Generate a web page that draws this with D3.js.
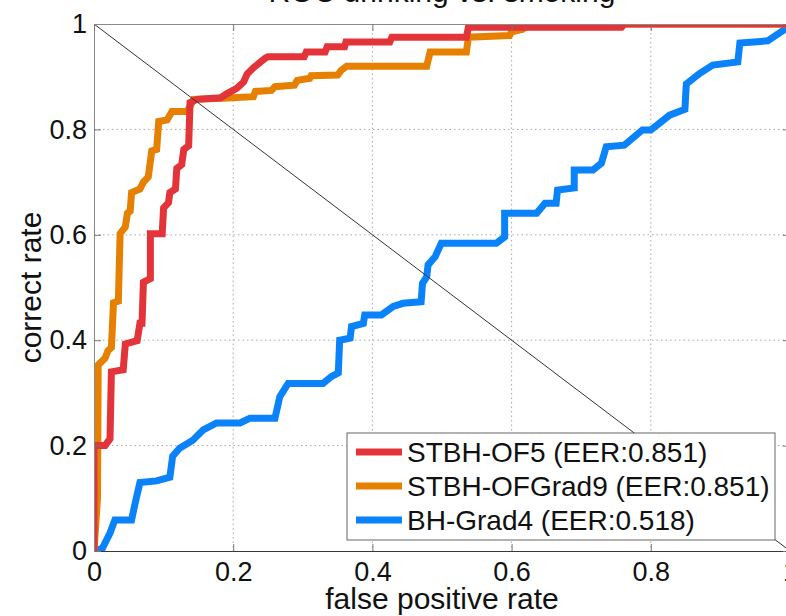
<!DOCTYPE html>
<html>
<head>
<meta charset="utf-8">
<script src="https://cdn.jsdelivr.net/npm/d3@7"></script>
<style>
  body { margin: 0; background: #fff; overflow: hidden; }
  svg { display: block; font-family: "Liberation Sans", Arial, sans-serif; }
</style>
</head>
<body>
<script>

const WIDTH = 786;
const HEIGHT = 616;

// ROC points: [false positive rate, correct rate]
const stbhOf5 = [
  [0, 0], [0, 0.2], [0.016, 0.2], [0.023, 0.213], [0.025, 0.34], [0.042, 0.344],
  [0.045, 0.393], [0.062, 0.399], [0.066, 0.432], [0.069, 0.432], [0.071, 0.51],
  [0.081, 0.517], [0.081, 0.602], [0.098, 0.602], [0.1, 0.651], [0.107, 0.661],
  [0.109, 0.68], [0.117, 0.687], [0.119, 0.726], [0.126, 0.733], [0.129, 0.762],
  [0.136, 0.769], [0.138, 0.851], [0.148, 0.857], [0.182, 0.86], [0.19, 0.867],
  [0.205, 0.878], [0.215, 0.89], [0.22, 0.905], [0.229, 0.917], [0.246, 0.935],
  [0.25, 0.938], [0.302, 0.938], [0.305, 0.947], [0.332, 0.947], [0.335, 0.957],
  [0.36, 0.957], [0.362, 0.966], [0.425, 0.966], [0.428, 0.975], [0.535, 0.975],
  [0.538, 0.994], [0.758, 0.994], [0.762, 1], [1, 1]
];

const stbhOfGrad9 = [
  [0, 0], [0.005, 0.1], [0.006, 0.353], [0.016, 0.366], [0.02, 0.38], [0.025, 0.386],
  [0.028, 0.471], [0.035, 0.474], [0.0375, 0.602], [0.045, 0.615], [0.048, 0.641],
  [0.052, 0.645], [0.054, 0.68], [0.066, 0.687], [0.071, 0.7], [0.078, 0.71],
  [0.083, 0.759], [0.09, 0.762], [0.093, 0.815], [0.105, 0.818], [0.112, 0.834],
  [0.134, 0.834], [0.138, 0.844], [0.143, 0.857], [0.185, 0.859], [0.229, 0.862],
  [0.232, 0.872], [0.255, 0.874], [0.26, 0.881], [0.288, 0.884], [0.292, 0.893],
  [0.31, 0.897], [0.312, 0.902], [0.35, 0.903], [0.355, 0.912], [0.363, 0.92],
  [0.478, 0.92], [0.483, 0.947], [0.535, 0.947], [0.538, 0.975], [0.597, 0.978],
  [0.6, 0.985], [0.616, 0.99], [0.625, 1], [1, 1]
];

const bhGrad4 = [
  [0, 0], [0.012, 0.005], [0.023, 0.034], [0.03, 0.059], [0.054, 0.059], [0.059, 0.09],
  [0.066, 0.13], [0.09, 0.133], [0.109, 0.14], [0.113, 0.18], [0.123, 0.195],
  [0.142, 0.21], [0.157, 0.23], [0.176, 0.243], [0.21, 0.243], [0.224, 0.252],
  [0.26, 0.252], [0.267, 0.293], [0.279, 0.318], [0.329, 0.318], [0.341, 0.331],
  [0.351, 0.338], [0.353, 0.4], [0.368, 0.404], [0.37, 0.426], [0.387, 0.432],
  [0.389, 0.448], [0.413, 0.448], [0.43, 0.464], [0.444, 0.47], [0.47, 0.473],
  [0.472, 0.508], [0.478, 0.52], [0.48, 0.543], [0.49, 0.558], [0.499, 0.584],
  [0.578, 0.584], [0.59, 0.596], [0.59, 0.641], [0.636, 0.641], [0.648, 0.66],
  [0.664, 0.66], [0.666, 0.685], [0.69, 0.689], [0.69, 0.723], [0.717, 0.723],
  [0.729, 0.736], [0.736, 0.767], [0.762, 0.77], [0.788, 0.799], [0.8, 0.799],
  [0.827, 0.827], [0.849, 0.838], [0.851, 0.886], [0.87, 0.906], [0.889, 0.922],
  [0.925, 0.928], [0.928, 0.964], [0.968, 0.968], [0.995, 0.992], [1, 1]
];

const chanceLine = [[0, 1], [1, 0]];

const seriesNames = ["STBH-OF5 (EER:0.851)", "STBH-OFGrad9 (EER:0.851)", "BH-Grad4 (EER:0.518)"];
const seriesColors = ["#e3343a", "#e68000", "#0a82fa"];

const xTicks = [0, 0.2, 0.4, 0.6, 0.8, 1];
const yTicks = [0, 0.2, 0.4, 0.6, 0.8, 1];
const gridTicks = [0.2, 0.4, 0.6, 0.8];

const TITLE = "ROC drinking vs. smoking";
const X_LABEL = "false positive rate";
const Y_LABEL = "correct rate";

// plot box
const LEFT = 94, RIGHT = 790, TOP = 24, BOTTOM = 551;

let svg = d3.select("body")
            .append("svg")
            .attr("width", WIDTH)
            .attr("height", HEIGHT);

let x = d3.scaleLinear().domain([0, 1]).range([LEFT, RIGHT]);
let y = d3.scaleLinear().domain([0, 1]).range([BOTTOM, TOP]);

svg.append("clipPath")
   .attr("id", "plot-clip")
   .append("rect")
   .attr("x", LEFT).attr("y", TOP)
   .attr("width", RIGHT - LEFT).attr("height", BOTTOM - TOP);

// dotted grid
svg.append("g").selectAll("line")
   .data(gridTicks).enter().append("line")
   .attr("x1", d => x(d)).attr("x2", d => x(d))
   .attr("y1", TOP).attr("y2", BOTTOM)
   .attr("stroke", "#a8a8a8").attr("stroke-dasharray", "1.5,3");

svg.append("g").selectAll("line")
   .data(gridTicks).enter().append("line")
   .attr("x1", LEFT).attr("x2", RIGHT)
   .attr("y1", d => y(d)).attr("y2", d => y(d))
   .attr("stroke", "#a8a8a8").attr("stroke-dasharray", "1.5,3");

const line = d3.line().x(d => x(d[0])).y(d => y(d[1]));

let curves = svg.append("g").attr("clip-path", "url(#plot-clip)");

// red ends up on top, as in the picture
[[bhGrad4, 2], [stbhOfGrad9, 1], [stbhOf5, 0]].forEach(([pts, i]) => {
  curves.append("path")
        .datum(pts)
        .attr("d", line)
        .attr("fill", "none")
        .attr("stroke", seriesColors[i])
        .attr("stroke-width", 7)
        .attr("stroke-linejoin", "miter");
});

curves.append("path")
      .datum(chanceLine)
      .attr("d", line)
      .attr("fill", "none")
      .attr("stroke", "#333")
      .attr("stroke-width", 1);

// axes, ticks pointing inward
const fmt = d => d3.format("")(d);

let xAxis = svg.append("g")
   .attr("transform", `translate(0,${BOTTOM})`)
   .call(d3.axisBottom(x).tickValues(xTicks).tickFormat(fmt)
           .tickSizeInner(-7).tickSizeOuter(0).tickPadding(11));

let yAxis = svg.append("g")
   .attr("transform", `translate(${LEFT},0)`)
   .call(d3.axisLeft(y).tickValues(yTicks).tickFormat(fmt)
           .tickSizeInner(-7).tickSizeOuter(0).tickPadding(7));

let topAxis = svg.append("g")
   .attr("transform", `translate(0,${TOP})`)
   .call(d3.axisTop(x).tickValues(xTicks).tickFormat("")
           .tickSizeInner(-7).tickSizeOuter(0));

let rightAxis = svg.append("g")
   .attr("transform", `translate(${RIGHT},0)`)
   .call(d3.axisRight(y).tickValues(yTicks).tickFormat("")
           .tickSizeInner(-7).tickSizeOuter(0));

svg.selectAll(".domain").attr("stroke", "#8a8a8a");
svg.selectAll(".tick line").attr("stroke", "#777");
xAxis.select(".domain").attr("stroke", "#3a3a3a");

svg.selectAll(".tick text")
   .attr("font-size", 27)
   .attr("font-family", "Liberation Sans, Arial, sans-serif")
   .attr("fill", "#111");

// titles
svg.append("text")
   .attr("x", (LEFT + RIGHT) / 2).attr("y", 2)
   .attr("text-anchor", "middle")
   .attr("font-size", 30).attr("fill", "#111")
   .text(TITLE);

svg.append("text")
   .attr("x", (LEFT + RIGHT) / 2).attr("y", 609)
   .attr("text-anchor", "middle")
   .attr("font-size", 30).attr("fill", "#111")
   .text(X_LABEL);

svg.append("text")
   .attr("transform", `translate(41,${(TOP + BOTTOM) / 2}) rotate(-90)`)
   .attr("text-anchor", "middle")
   .attr("font-size", 30).attr("fill", "#111")
   .text(Y_LABEL);

// legend
let legend = svg.append("g").attr("transform", "translate(347,433)");

legend.append("rect")
      .attr("width", 428).attr("height", 107)
      .attr("fill", "#fff").attr("stroke", "#666").attr("stroke-width", 1);

let rows = legend.selectAll("g.row")
                 .data(seriesNames).enter()
                 .append("g").attr("class", "row")
                 .attr("transform", (d, i) => `translate(0,${19 + i * 34})`);

rows.append("line")
    .attr("x1", 9).attr("x2", 55)
    .attr("stroke", (d, i) => seriesColors[i])
    .attr("stroke-width", 7);

rows.append("text")
    .attr("x", 60).attr("y", 10)
    .attr("font-size", 28).attr("fill", "#111")
    .text(d => d);

</script>
</body>
</html>
